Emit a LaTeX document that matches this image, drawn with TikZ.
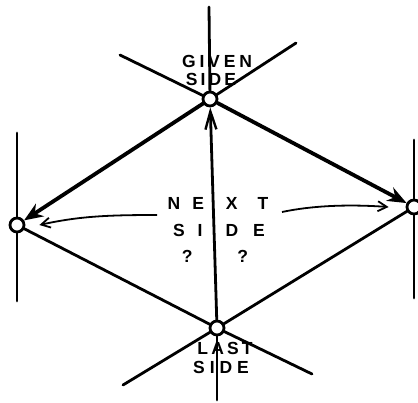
\documentclass[tikz,border=0pt]{standalone}
\usepackage{fontspec}
\setmainfont{Liberation Sans}
\usetikzlibrary{arrows.meta}
\tikzset{
  vtx/.style={circle,draw,fill=white,line width=2.8pt,minimum size=14pt,inner sep=0pt},
  edge/.style={line width=2.8pt,line cap=round},
  heavy/.style={line width=3.8pt,line cap=round},
  lbl/.style={font=\fontsize{17.5}{17.5}\selectfont\bfseries,inner sep=0pt},
  pointer/.style={line width=1.8pt,-{Straight Barb[length=9pt,width=10pt,line width=1.8pt]}},
}
\begin{document}
\begin{tikzpicture}[x=1pt,y=-1pt]
\useasboundingbox (0,0) rectangle (418,402);
% construction line ends
\coordinate (vtop) at (209,7);
\coordinate (vbot) at (217,400);
\coordinate (ul) at (120,55);
\coordinate (ur) at (296,43);
\coordinate (lr) at (312,374);
\coordinate (ll) at (123,385);
\coordinate (lvt) at (17,133);
\coordinate (lvb) at (17,301);
\coordinate (rvt) at (414,140);
\coordinate (rvb) at (414,298);
% vertices (positions)
\coordinate (Tc) at (210,99);
\coordinate (Bc) at (217,328);
\coordinate (Lc) at (17,225);
\coordinate (Rc) at (414,207);
% lines behind
\draw[edge] (vtop) -- (Tc);
\draw[edge] (Bc) -- (vbot);
\draw[edge] (ul) -- (Tc);
\draw[edge] (ur) -- (Tc);
\draw[edge] (Bc) -- (lr);
\draw[edge] (Bc) -- (ll);
\draw[edge] (lvt) -- (lvb);
\draw[edge] (rvt) -- (rvb);
\draw[edge] (Lc) -- (Bc);
\draw[edge] (Rc) -- (Bc);
% vertex nodes
\node[vtx] (T) at (Tc) {};
\node[vtx] (B) at (Bc) {};
\node[vtx] (L) at (Lc) {};
\node[vtx] (R) at (Rc) {};
% arrows
\draw[heavy,-{Stealth[length=19pt,width=15pt]}] (T) -- (L);
\draw[heavy,-{Stealth[length=19pt,width=15pt]}] (T) -- (R);
\draw[edge,-{Straight Barb[length=18pt,width=11pt,line width=2.4pt]}] (B) -- (T);
% labels
\node[lbl] (given) at (217,61) {\addfontfeature{LetterSpace=22}GIVEN};
\node[lbl] (gside) at (211,79) {\addfontfeature{LetterSpace=18}SIDE};
\node[lbl] (last) at (225,348) {\addfontfeature{LetterSpace=18}LAST};
\node[lbl] (lside) at (221,367) {\addfontfeature{LetterSpace=28}SIDE};
\node[lbl] (next) at (218,203) {N\hspace{12pt}E\hspace{22pt}X\hspace{20pt}T};
\node[lbl] (nside) at (219,230) {S\hspace{13pt}I\hspace{23pt}D\hspace{15pt}E};
\node[lbl] (q) at (215,256) {?\hspace{45pt}?};
% pointer arrows
\coordinate (pl) at (157,215);
\coordinate (pr) at (282,212);
\draw[pointer] (pl) .. controls (110,215) and (80,216) .. ([xshift=14pt]L.east);
\draw[pointer] (pr) .. controls (320,204) and (360,205) .. ([xshift=-17pt]R.west);
\end{tikzpicture}
\end{document}
